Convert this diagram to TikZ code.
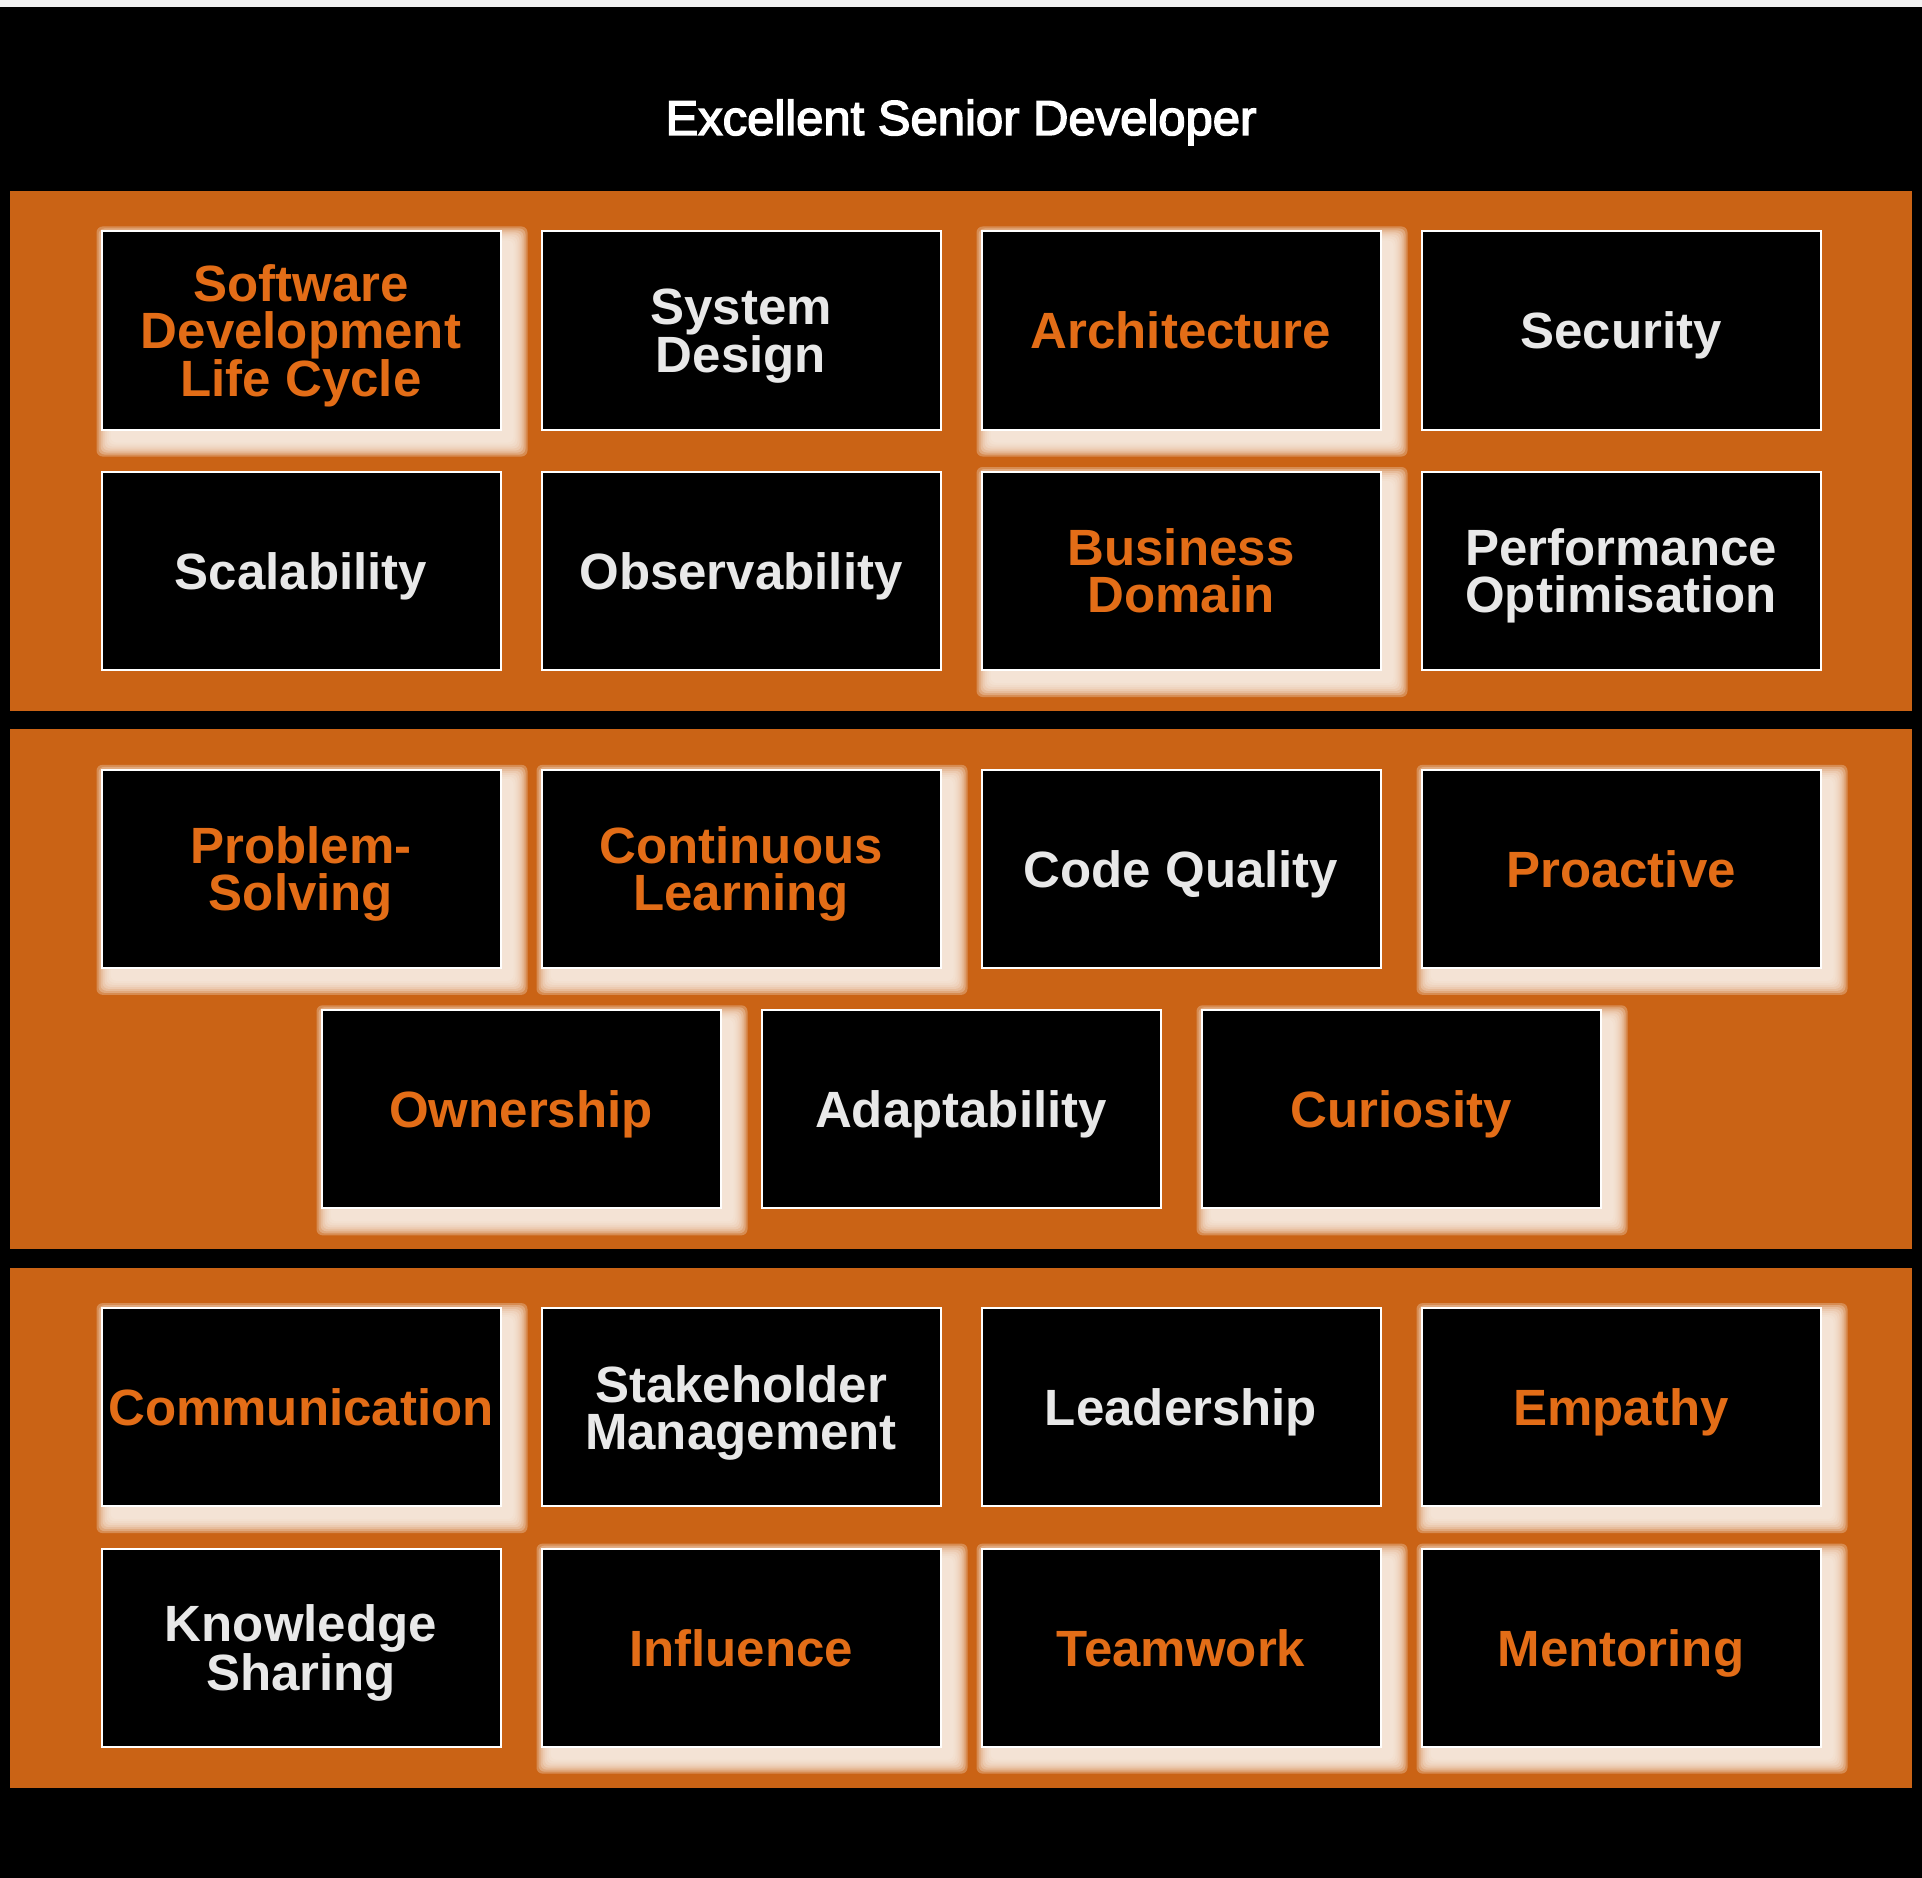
\documentclass[tikz,border=0pt]{standalone}
\usepackage{fontspec}
\setmainfont{Liberation Sans}
\newfontfamily\titlefont[FakeBold=3]{Liberation Sans}
\definecolor{panelc}{HTML}{CA6315}
\definecolor{otext}{HTML}{E36D17}
\definecolor{wtext}{HTML}{E8E8E8}
\definecolor{glowc}{HTML}{F8ECE2}
\definecolor{stripc}{HTML}{F2F2F2}
\pgfdeclarelayer{bg}
\pgfdeclarelayer{glow}
\pgfsetlayers{bg,glow,main}
\tikzset{
  card/.style={draw=white, line width=2pt, fill=black, minimum width=399pt,
    minimum height=198pt, inner sep=0pt, align=center, text depth=0pt,
    font=\fontsize{51}{47}\selectfont\bfseries, text=wtext},
  hot/.style={card, text=otext},
  panel/.style={fill=panelc, draw=none, minimum width=1902.4pt, minimum height=520pt, inner sep=0pt},
  titletext/.style={text=white, font=\titlefont\fontsize{49}{58}\selectfont, inner sep=0pt}
}
\begin{document}
\begin{tikzpicture}[x=1pt,y=-1pt]
\useasboundingbox (0,0) rectangle (1922,1878);
\begin{pgfonlayer}{bg}
  \fill[black] (0,0) rectangle (1922,1878);
  \fill[stripc] (0,0) rectangle (1922,7);
  \node[panel] (p1) at (960.8,451) {};
  \node[panel] (p2) at (960.8,989.3) {};
  \node[panel] (p3) at (960.8,1527.6) {};
\end{pgfonlayer}

\node[titletext, anchor=base] (title) at (961,135) {Excellent Senior Developer};

% panel 1
\node[hot]  (sdlc) at (301,330.5)  {Software\\Development\\Life Cycle};
\node[card] (sysd) at (741,330.5)  {System\\Design};
\node[hot]  (arch) at (1181,330.5) {Architecture};
\node[card] (secu) at (1621,330.5) {Security};
\node[card] (scal) at (301,571)    {Scalability};
\node[card] (obsv) at (741,571)    {Observability};
\node[hot]  (bdom) at (1181,571)   {Business\\Domain};
\node[card] (perf) at (1621,571)   {Performance\\Optimisation};

% panel 2
\node[hot]  (prob) at (301,868.8)  {Problem-\\Solving};
\node[hot]  (cont) at (741,868.8)  {Continuous\\Learning};
\node[card] (codq) at (1181,868.8) {Code Quality};
\node[hot]  (proa) at (1621,868.8) {Proactive};
\node[hot]  (own)  at (521,1109.3) {Ownership};
\node[card] (adap) at (961,1109.3) {Adaptability};
\node[hot]  (cur)  at (1401,1109.3){Curiosity};

% panel 3
\node[hot]  (comm) at (301,1407.1)  {Communication};
\node[card] (stak) at (741,1407.1)  {Stakeholder\\Management};
\node[card] (lead) at (1181,1407.1) {Leadership};
\node[hot]  (emp)  at (1621,1407.1) {Empathy};
\node[card] (know) at (301,1647.6)  {Knowledge\\Sharing};
\node[hot]  (infl) at (741,1647.6)  {Influence};
\node[hot]  (team) at (1181,1647.6) {Teamwork};
\node[hot]  (ment) at (1621,1647.6) {Mentoring};

\begin{pgfonlayer}{glow}
\foreach \n in {sdlc,arch,bdom,prob,cont,proa,own,cur,comm,emp,infl,team,ment}{
  \foreach \d in {7,5,3,1,-1,-3,-5,-7}{
    \fill[glowc, fill opacity=0.3, rounded corners=6pt]
      ([xshift={(3-(\d))*1pt}, yshift={-(3-(\d))*1pt}]\n.north west) rectangle
      ([xshift={(19+(\d))*1pt}, yshift={-(19+(\d))*1pt}]\n.south east);
  }
}
\end{pgfonlayer}
\end{tikzpicture}
\end{document}
